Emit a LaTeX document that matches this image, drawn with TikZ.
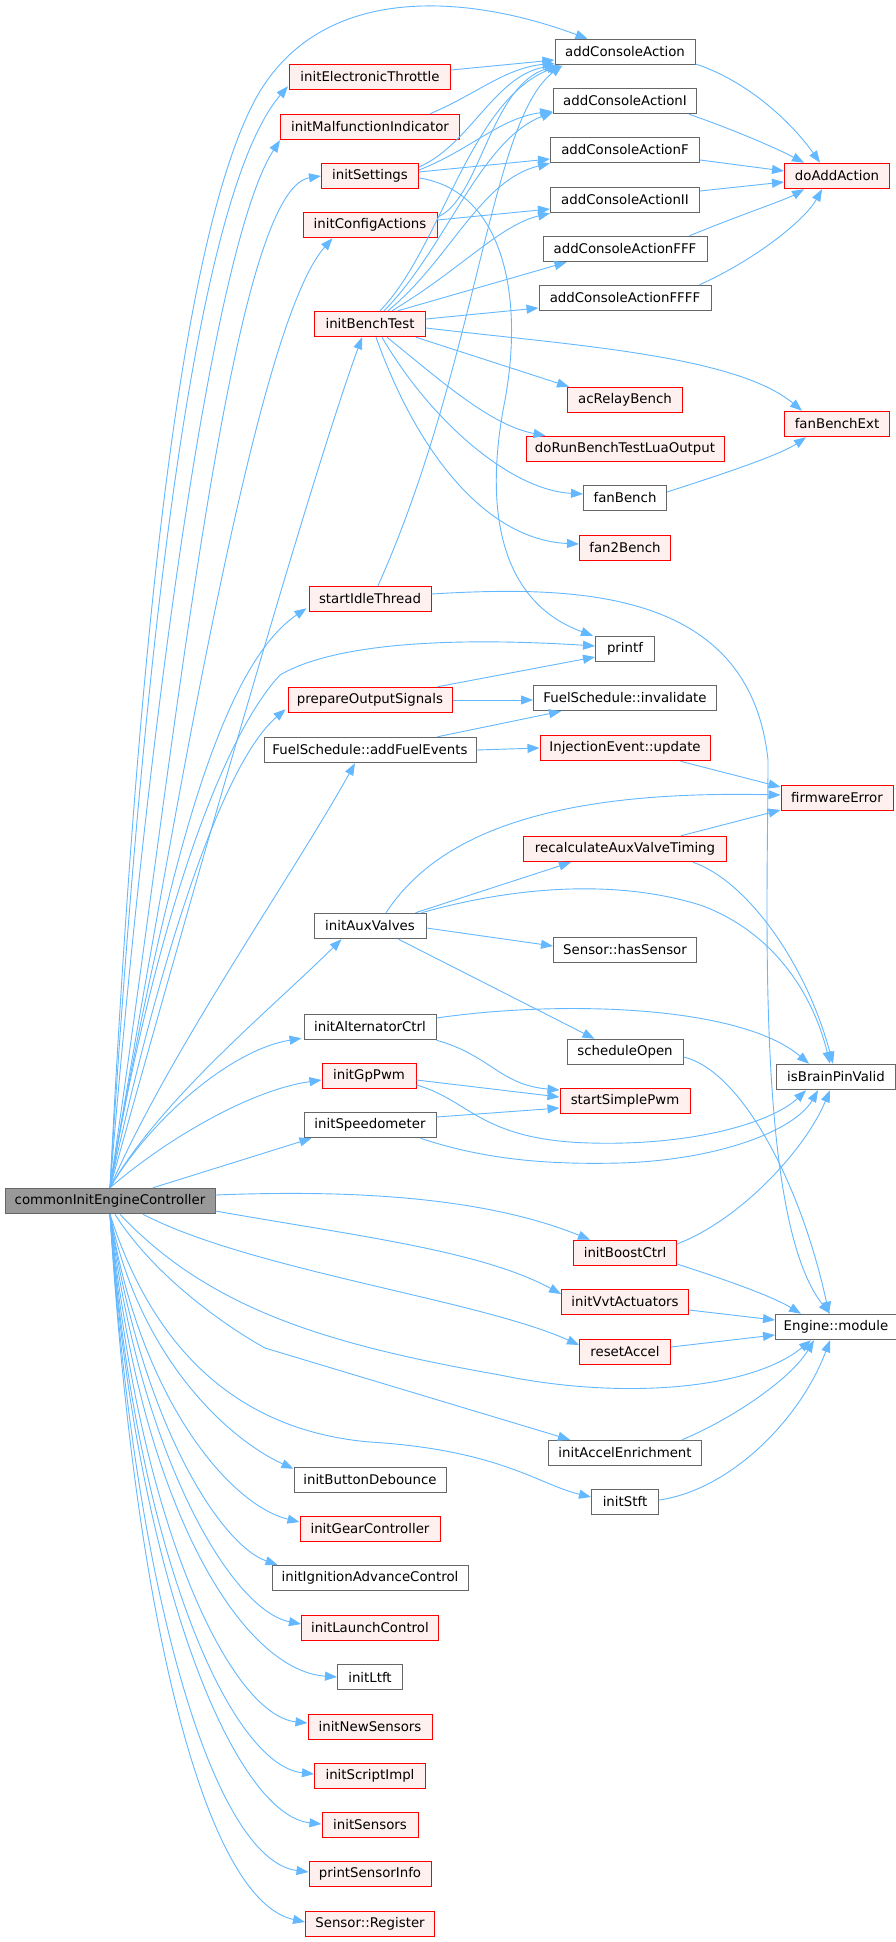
\documentclass[tikz,border=0pt]{standalone}
\usepackage{fontspec}
\setmainfont{DejaVu Sans}
\usetikzlibrary{arrows.meta,calc}
\definecolor{edgec}{HTML}{63B8FF}
\definecolor{redb}{HTML}{FF0000}
\definecolor{redf}{HTML}{FFF0F0}
\definecolor{grayb}{HTML}{666666}
\definecolor{rootf}{HTML}{999999}
\begin{document}
\begin{tikzpicture}[x=1pt,y=-1pt,
 box/.style={rectangle,draw,line width=1pt,minimum height=25.5pt,inner sep=0pt,font=\fontsize{13.33}{16}\selectfont,anchor=center},
 rbox/.style={box,draw=redb,fill=redf},
 gbox/.style={box,draw=grayb,fill=white},
 rootbox/.style={box,draw=grayb,fill=rootf},
 edge/.style={draw=edgec,line width=0.9pt,-{Triangle[length=12pt,width=9pt]}},
]
\useasboundingbox[fill=white] (0,0) rectangle (896,1942);
% column 3 top
\node[gbox,minimum width=140pt] (ACA) at (625,52) {addConsoleAction};
\node[gbox,minimum width=143pt] (ACAI) at (625,101) {addConsoleActionI};
\node[gbox,minimum width=149pt] (ACAF) at (625,150) {addConsoleActionF};
\node[gbox,minimum width=149pt] (ACAII) at (625,200) {addConsoleActionII};
\node[gbox,minimum width=164pt] (ACAFFF) at (625,249) {addConsoleActionFFF};
\node[gbox,minimum width=172pt] (ACAFFFF) at (625,298) {addConsoleActionFFFF};
\node[rbox,minimum width=105pt] (DAA) at (837,176) {doAddAction};
% column 2
\node[rbox,minimum width=161pt] (ET) at (370,77) {initElectronicThrottle};
\node[rbox,minimum width=179pt] (MI) at (370,127) {initMalfunctionIndicator};
\node[rbox,minimum width=97pt] (IS) at (370,176) {initSettings};
\node[rbox,minimum width=134pt] (ICA) at (370,225) {initConfigActions};
\node[rbox,minimum width=111pt] (IBT) at (370,324) {initBenchTest};
\node[rbox,minimum width=115pt] (ARB) at (625,400) {acRelayBench};
\node[rbox,minimum width=105pt] (FBE) at (837,424) {fanBenchExt};
\node[rbox,minimum width=198pt] (DRB) at (625,449) {doRunBenchTestLuaOutput};
\node[gbox,minimum width=83pt] (FB) at (625,498) {fanBench};
\node[rbox,minimum width=91pt] (F2B) at (625,548) {fan2Bench};
\node[rbox,minimum width=122pt] (SIT) at (370,599) {startIdleThread};
\node[gbox,minimum width=59pt] (PF) at (625,649) {printf};
\node[rbox,minimum width=164pt] (POS) at (370,700) {prepareOutputSignals};
\node[gbox,minimum width=183pt] (FSI) at (625,698) {FuelSchedule::invalidate};
\node[gbox,minimum width=212pt] (FSA) at (370,750) {FuelSchedule::addFuelEvents};
\node[rbox,minimum width=170pt] (IEU) at (625,748) {InjectionEvent::update};
\node[rbox,minimum width=112pt] (FE) at (837,798) {firmwareError};
\node[rbox,minimum width=203pt] (RAV) at (625,849) {recalculateAuxValveTiming};
\node[gbox,minimum width=112pt] (IAV) at (370,926) {initAuxValves};
\node[gbox,minimum width=143pt] (SHS) at (625,950) {Sensor::hasSensor};
\node[gbox,minimum width=132pt] (IAC) at (370,1027) {initAlternatorCtrl};
\node[gbox,minimum width=116pt] (SO) at (625,1052) {scheduleOpen};
\node[gbox,minimum width=119pt] (IBPV) at (836,1077) {isBrainPinValid};
\node[rbox,minimum width=94pt] (IGP) at (369,1076) {initGpPwm};
\node[rbox,minimum width=130pt] (SSP) at (625,1101) {startSimplePwm};
\node[gbox,minimum width=132pt] (ISP) at (370,1125) {initSpeedometer};
\node[rootbox,minimum width=210pt] (root) at (110,1201) {commonInitEngineController};
\node[rbox,minimum width=103pt] (IBC) at (625,1253) {initBoostCtrl};
\node[rbox,minimum width=127pt] (IVA) at (625,1302) {initVvtActuators};
\node[gbox,minimum width=121pt] (EM) at (836,1327) {Engine::module};
\node[rbox,minimum width=91pt] (RA) at (625,1352) {resetAccel};
\node[gbox,minimum width=153pt] (IAE) at (625,1453) {initAccelEnrichment};
\node[gbox,minimum width=67pt] (IST) at (625,1502) {initStft};
\node[gbox,minimum width=152pt] (IBD) at (370,1480) {initButtonDebounce};
\node[rbox,minimum width=140pt] (IGC) at (370,1529) {initGearController};
\node[gbox,minimum width=196pt] (IIAC) at (370,1578) {initIgnitionAdvanceControl};
\node[rbox,minimum width=137pt] (ILC) at (370,1628) {initLaunchControl};
\node[gbox,minimum width=65pt] (ILT) at (370,1677) {initLtft};
\node[rbox,minimum width=124pt] (INS) at (370,1727) {initNewSensors};
\node[rbox,minimum width=111pt] (ISI) at (370,1776) {initScriptImpl};
\node[rbox,minimum width=96pt] (ISE) at (370,1825) {initSensors};
\node[rbox,minimum width=122pt] (PSI) at (370,1874) {printSensorInfo};
\node[rbox,minimum width=129pt] (SR) at (370,1924) {Sensor::Register};

% ---- root upward edges
\draw[edge] (root.north) .. controls (135,700) and (175,250) .. (255,100) .. controls (320,-20) and (470,-5) .. ($(ACA.north west)+(33,0)$);
\draw[edge] (root.north) .. controls (140,700) and (190,200) .. ($(ET.south west)+(-1,-4)$);
\draw[edge] (root.north) .. controls (150,700) and (215,240) .. (MI.south west);
\draw[edge] (root.north) .. controls (175,750) and (230,190) .. (IS.west);
\draw[edge] (root.north) .. controls (185,750) and (260,320) .. ($(ICA.south west)+(30,0)$);
\draw[edge] (root.north) .. controls (190,900) and (310,480) .. ($(IBT.south)+(-8,0)$);
\draw[edge] (root.north) .. controls (160,900) and (215,670) .. ($(SIT.south west)+(-2,-4)$);
\draw[edge] (root.north) .. controls (150,950) and (215,745) .. (280,675) .. controls (340,640) and (470,638) .. ($(PF.west)+(0,-3)$);
\draw[edge] (root.north) .. controls (150,1000) and (215,770) .. ($(POS.south west)+(-2,-4)$);
\draw[edge] (root.north) .. controls (170,1050) and (290,880) .. ($(FSA.south)+(-15,0)$);
\draw[edge] (root.north) .. controls (160,1100) and (270,1010) .. ($(IAV.south west)+(28,0)$);
\draw[edge] (root.north) .. controls (150,1120) and (230,1050) .. ($(IAC.south west)+(-2,-2)$);
\draw[edge] (root.north) .. controls (165,1140) and (250,1090) .. ($(IGP.west)+(0,4)$);
\draw[edge] ($(root.north)+(43,0)$) -- ($(ISP.south west)+(8,0)$);
% ---- root rightward / downward edges
\draw[edge] ($(root.east)+(0,-6)$) .. controls (340,1190) and (480,1195) .. ($(IBC.north west)+(17,0)$);
\draw[edge] ($(root.east)+(0,10)$) .. controls (350,1235) and (480,1250) .. ($(IVA.west)+(0,-8)$);
\draw[edge] ($(root.south)+(33,0)$) .. controls (250,1270) and (480,1300) .. ($(RA.west)+(0,-7)$);
\draw[edge] ($(root.south)+(10,0)$) .. controls (210,1310) and (330,1345) .. (500,1375) .. controls (620,1400) and (750,1390) .. ($(EM.south)+(-25,0)$);
\draw[edge] ($(root.south)+(5,0)$) .. controls (150,1270) and (215,1320) .. (265,1348) -- ($(IAE.north west)+(22,0)$);
\draw[edge] (root.south) .. controls (150,1340) and (230,1430) .. (370,1442) .. controls (500,1450) and (540,1485) .. ($(IST.west)+(0,-5)$);
\draw[edge] (root.south) .. controls (140,1360) and (230,1440) .. ($(IBD.north west)+(0,2)$);
\draw[edge] (root.south) .. controls (140,1400) and (230,1505) .. ($(IGC.west)+(0,-7)$);
\draw[edge] (root.south) .. controls (140,1420) and (220,1545) .. ($(IIAC.north west)+(6,0)$);
\draw[edge] (root.south) .. controls (138,1450) and (230,1610) .. ($(ILC.west)+(0,-4)$);
\draw[edge] (root.south) .. controls (138,1500) and (240,1670) .. (ILT.west);
\draw[edge] (root.south) .. controls (136,1520) and (230,1715) .. ($(INS.west)+(0,-4)$);
\draw[edge] (root.south) .. controls (135,1550) and (230,1765) .. ($(ISI.west)+(0,-2)$);
\draw[edge] (root.south) .. controls (135,1580) and (235,1815) .. ($(ISE.west)+(0,-1)$);
\draw[edge] (root.south) .. controls (135,1600) and (215,1860) .. ($(PSI.west)+(0,-2)$);
\draw[edge] (root.south) .. controls (135,1620) and (205,1900) .. ($(SR.west)+(0,-2)$);
% ---- column 2 -> column 3 (top)
\draw[edge] ($(ET.east)+(0,-7)$) -- ($(ACA.west)+(0,8)$);
\draw[edge] ($(MI.north east)+(-30,0)$) .. controls (475,95) and (505,68) .. ($(ACA.south west)+(0,-2)$);
\draw[edge] ($(IS.east)+(0,-9)$) .. controls (470,145) and (495,75) .. ($(ACA.south west)+(2,0)$);
\draw[edge] ($(IS.east)+(0,-6)$) .. controls (470,150) and (500,118) .. ($(ACAI.south west)+(-1,-3)$);
\draw[edge] ($(IS.east)+(0,-4)$) -- ($(ACAF.west)+(0,9)$);
\draw[edge] ($(IS.east)+(0,2)$) .. controls (500,190) and (525,290) .. (505,400) .. controls (485,500) and (495,600) .. ($(PF.north west)+(-2,0)$);
\draw[edge] ($(ICA.east)+(0,-8)$) .. controls (480,200) and (490,85) .. ($(ACA.south west)+(4,0)$);
\draw[edge] ($(ICA.east)+(0,-5)$) -- ($(ACAII.west)+(0,9)$);
\draw[edge] ($(IBT.north)+(10,0)$) .. controls (440,250) and (470,100) .. ($(ACA.south west)+(6,0)$);
\draw[edge] ($(IBT.north)+(14,0)$) .. controls (445,250) and (480,140) .. ($(ACAI.south west)+(0,-2)$);
\draw[edge] ($(IBT.north)+(18,0)$) .. controls (450,260) and (480,180) .. (ACAF.south west);
\draw[edge] ($(IBT.north)+(22,0)$) .. controls (460,270) and (500,225) .. (ACAII.south west);
\draw[edge] ($(IBT.north)+(28,0)$) -- ($(ACAFFF.south west)+(24,0)$);
\draw[edge] ($(IBT.east)+(0,-5)$) -- ($(ACAFFFF.west)+(0,10)$);
\draw[edge] ($(IBT.east)+(0,4)$) .. controls (570,345) and (735,355) .. ($(FBE.north)+(-35,0)$);
\draw[edge] ($(IBT.south east)+(-10,0)$) -- ($(ARB.north west)+(2,0)$);
\draw[edge] ($(IBT.south)+(17,0)$) .. controls (440,380) and (490,425) .. ($(DRB.north west)+(20,0)$);
\draw[edge] ($(IBT.south)+(12,0)$) .. controls (430,420) and (510,490) .. ($(FB.west)+(0,-4)$);
\draw[edge] ($(IBT.south)+(6,0)$) .. controls (420,460) and (490,540) .. ($(F2B.west)+(0,-4)$);
\draw[edge] ($(SIT.north)+(8,0)$) .. controls (478,362) and (490,120) .. ($(ACA.south west)+(8,0)$);
\draw[edge] ($(SIT.east)+(0,-5)$) .. controls (580,585) and (750,590) .. (768,760) .. controls (768,900) and (755,1220) .. ($(EM.north)+(-6,0)$);
% ---- column 3 -> column 4 (top)
\draw[edge] ($(ACA.east)+(0,12)$) .. controls (745,80) and (790,120) .. ($(DAA.north)+(-17,0)$);
\draw[edge] ($(ACAI.south east)+(-8,0)$) .. controls (735,130) and (780,150) .. ($(DAA.north west)+(20,0)$);
\draw[edge] ($(ACAF.east)+(0,10)$) -- ($(DAA.west)+(0,-5)$);
\draw[edge] ($(ACAII.east)+(0,-9)$) -- ($(DAA.west)+(0,6)$);
\draw[edge] ($(ACAFFF.north east)+(-18,0)$) .. controls (740,215) and (785,200) .. ($(DAA.south west)+(20,0)$);
\draw[edge] ($(ACAFFFF.north east)+(-12,0)$) .. controls (755,260) and (805,220) .. ($(DAA.south)+(-15,0)$);
\draw[edge] ($(FB.east)+(0,-6)$) .. controls (720,475) and (780,455) .. ($(FBE.south west)+(22,0)$);
% ---- middle
\draw[edge] ($(POS.north east)+(-15,0)$) -- ($(PF.west)+(0,8)$);
\draw[edge] (POS.east) -- ($(FSI.west)+(0,2)$);
\draw[edge] ($(FSA.north east)+(-39,0)$) -- ($(FSI.south west)+(28,0)$);
\draw[edge] (FSA.east) -- (IEU.west);
\draw[edge] ($(IEU.south east)+(-30,0)$) -- ($(FE.west)+(0,-11)$);
\draw[edge] ($(IAV.north)+(16,0)$) .. controls (440,830) and (560,790) .. ($(FE.west)+(0,-3)$);
\draw[edge] ($(IAV.north east)+(-11,0)$) -- ($(RAV.south west)+(48,0)$);
\draw[edge] ($(IAV.north east)+(-5,0)$) .. controls (520,885) and (620,880) .. (700,905) .. controls (770,930) and (812,990) .. ($(IBPV.north)+(-6,0)$);
\draw[edge] ($(IAV.east)+(0,2)$) -- ($(SHS.west)+(0,-4)$);
\draw[edge] ($(IAV.south east)+(-28,0)$) -- ($(SO.north west)+(28,0)$);
\draw[edge] ($(RAV.north east)+(-46,0)$) -- ($(FE.west)+(0,12)$);
\draw[edge] ($(RAV.south east)+(-34,0)$) .. controls (745,880) and (805,960) .. ($(IBPV.north)+(-3,0)$);
\draw[edge] ($(IAC.east)+(0,-9)$) .. controls (560,1000) and (740,1005) .. ($(IBPV.north west)+(33,0)$);
\draw[edge] (IAC.south east) .. controls (490,1055) and (500,1085) .. ($(SSP.west)+(0,-11)$);
\draw[edge] ($(IGP.east)+(0,4)$) -- ($(SSP.west)+(0,-4)$);
\draw[edge] ($(IGP.east)+(0,9)$) .. controls (470,1100) and (480,1140) .. (590,1143) .. controls (700,1146) and (775,1120) .. ($(IBPV.south west)+(30,0)$);
\draw[edge] ($(ISP.east)+(0,-8)$) -- ($(SSP.west)+(0,7)$);
\draw[edge] ($(ISP.south east)+(-16,0)$) .. controls (480,1158) and (540,1165) .. (620,1163) .. controls (720,1160) and (795,1130) .. ($(IBPV.south)+(-18,0)$);
\draw[edge] ($(SO.east)+(0,5)$) .. controls (740,1070) and (800,1180) .. ($(EM.north)+(-7,0)$);
\draw[edge] ($(IBC.east)+(0,-9)$) .. controls (740,1220) and (805,1150) .. ($(IBPV.south)+(-6,0)$);
\draw[edge] ($(IBC.east)+(0,11)$) .. controls (720,1278) and (770,1295) .. ($(EM.north west)+(26,0)$);
\draw[edge] ($(IVA.east)+(0,8)$) -- ($(EM.west)+(0,-7)$);
\draw[edge] ($(RA.east)+(0,-5)$) -- ($(EM.west)+(0,8)$);
\draw[edge] ($(IAE.north east)+(-20,0)$) .. controls (730,1420) and (790,1380) .. ($(EM.south)+(-22,0)$);
\draw[edge] ($(IST.east)+(0,-2)$) .. controls (730,1490) and (800,1420) .. ($(EM.south)+(-6,0)$);
\end{tikzpicture}
\end{document}
